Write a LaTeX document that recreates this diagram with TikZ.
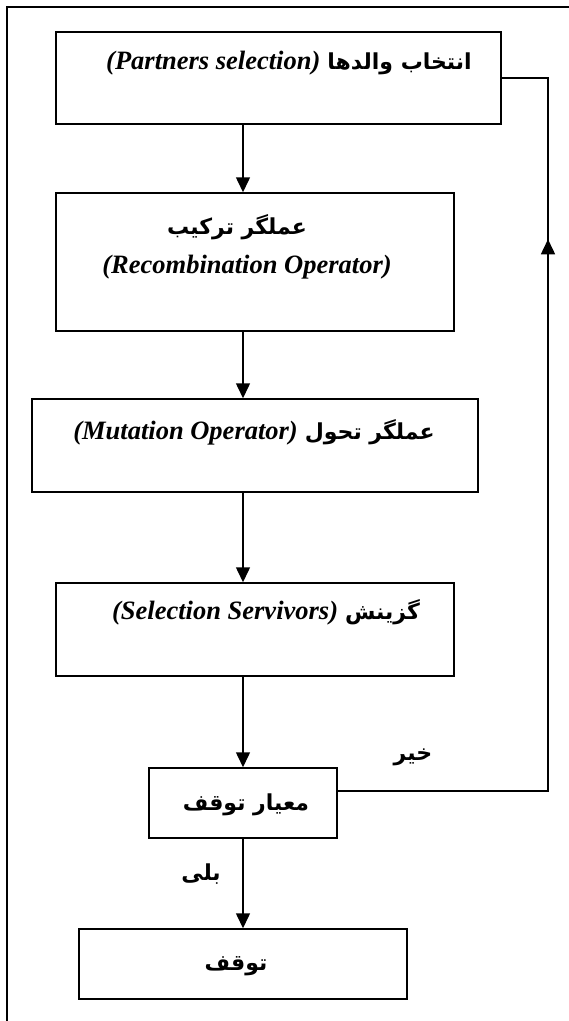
\documentclass[tikz,border=0pt]{standalone}
\usepackage{fontspec}
\setmainfont{Liberation Serif}
\newfontfamily\fa[Script=Arabic]{DejaVu Sans}
\TeXXeTstate=1
\usetikzlibrary{arrows.meta,decorations.markings}
\newcommand{\en}[1]{{\fontsize{26.5}{30}\selectfont\bfseries\itshape #1}}
\newcommand{\pr}[1]{{\fa\fontsize{22}{28}\selectfont\bfseries\beginR #1\endR}}
\begin{document}
\begin{tikzpicture}[x=1pt,y=-1pt,
  box/.style={draw, line width=1.5pt, rectangle, inner sep=0pt},
  conn/.style={line width=1.5pt},
  arr/.style={line width=1.5pt, -{Triangle[length=15pt,width=14pt]}},
  txt/.style={inner sep=0pt, anchor=center}]
\useasboundingbox (0,0) rectangle (569,1021);
\coordinate (fr1) at (7,1021);
\coordinate (fr2) at (7,7);
\coordinate (fr3) at (569,7);
\draw[line width=2pt] (fr1) -- (fr2) -- (fr3);
\coordinate (ax) at (243,0);
\coordinate (fbx) at (548,0);
% boxes
\node[box, minimum width=445pt, minimum height=92pt] (b1) at (278.5,78) {};
\node[box, minimum width=398pt, minimum height=138pt] (b2) at (255,262) {};
\node[box, minimum width=446pt, minimum height=93pt] (b3) at (255,445.5) {};
\node[box, minimum width=398pt, minimum height=93pt] (b4) at (255,629.5) {};
\node[box, minimum width=188pt, minimum height=70pt] (b5) at (243,803) {};
\node[box, minimum width=328pt, minimum height=70pt] (b6) at (243,964) {};
% texts
\node[txt] (t1) at (289,63) {\en{(Partners selection)}\hspace{7pt}\pr{انتخاب والدها}};
\node[txt] (t2a) at (237,227) {\pr{عملگر ترکیب}};
\node[txt] (t2b) at (247,267) {\en{(Recombination Operator)}};
\node[txt] (t3) at (254,432) {\en{(Mutation Operator)}\hspace{7pt}\pr{عملگر تحول}};
\node[txt] (t4) at (266,612) {\en{(Selection Servivors)}\hspace{7pt}\pr{گزینش}};
\node[txt] (t5) at (246,805) {\pr{معیار توقف}};
\node[txt] (t6) at (236,966) {\pr{توقف}};
\node[txt] (no) at (413,757) {\pr{خیر}};
\node[txt] (yes) at (201,874) {\pr{بلی}};
% connectors
\draw[arr] (b1.south -| ax) -- (b2.north -| ax);
\draw[arr] (b2.south -| ax) -- (b3.north -| ax);
\draw[arr] (b3.south -| ax) -- (b4.north -| ax);
\draw[arr] (b4.south -| ax) -- (b5.north -| ax);
\draw[arr] (b5.south -| ax) -- (b6.north -| ax);
\draw[conn, postaction={decorate}, decoration={markings,
   mark=at position 762pt with {\arrow{Triangle[length=15pt,width=14pt]}}}]
  ([yshift=12pt]b5.east) -- ([yshift=12pt]b5.east -| fbx) -- (b1.east -| fbx) -- (b1.east);
\end{tikzpicture}
\end{document}
